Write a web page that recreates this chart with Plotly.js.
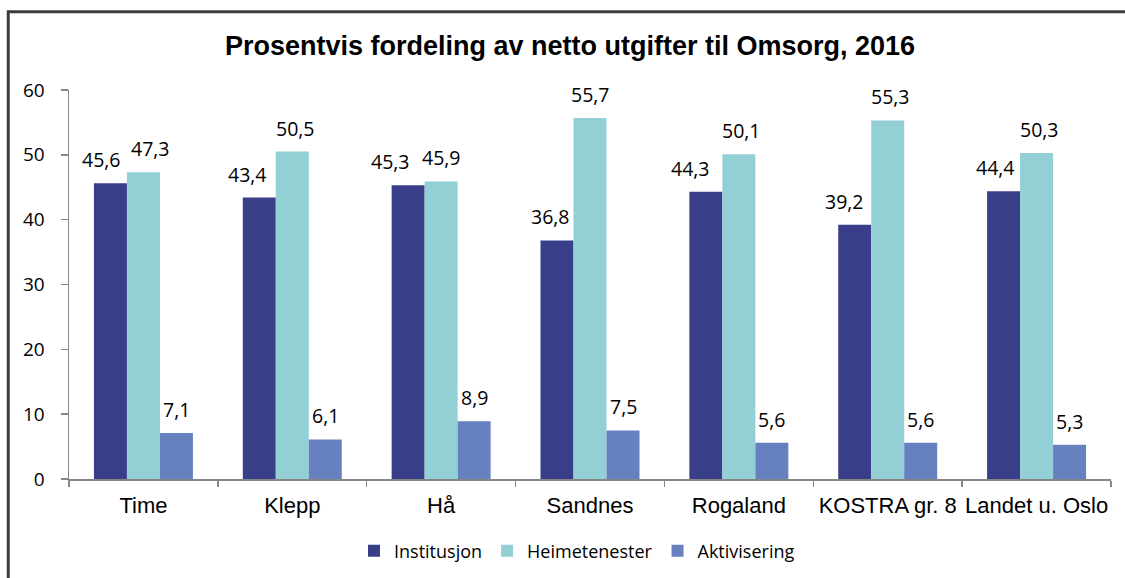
<!DOCTYPE html>
<html>
<head>
<meta charset="utf-8">
<script src="https://cdn.plot.ly/plotly-3.0.1.min.js"></script>
<style>html,body{margin:0;padding:0;background:#fff;}#chart{width:1125px;height:578px;}</style>
</head>
<body>
<div id="chart"></div>
<script>
const categories = ["Time", "Klepp", "Hå", "Sandnes", "Rogaland", "KOSTRA gr. 8", "Landet u. Oslo"];
const institusjon = [45.6, 43.4, 45.3, 36.8, 44.3, 39.2, 44.4];
const heimetenester = [47.3, 50.5, 45.9, 55.7, 50.1, 55.3, 50.3];
const aktivisering = [7.1, 6.1, 8.9, 7.5, 5.6, 5.6, 5.3];
const seriesNames = ["Institusjon", "Heimetenester", "Aktivisering"];
const yTicks = [0, 10, 20, 30, 40, 50, 60];

const colors = ["#383E88", "#92D0D6", "#6680C0"];
const series = [institusjon, heimetenester, aktivisering];
const labelFont = {family: "Open Sans, sans-serif", size: 19.5, color: "#000"};
// small horizontal nudges (px) of labels, as placed in the original
const labelNudge = [[-9, -12, -18, -7, -15, -10, -8], [7, 3, 0, 0, 3, 3, 3], [0, 0, 0, 0, 0, 0, 0]];

const traces = series.map((vals, i) => ({
  type: "bar",
  name: seriesNames[i],
  x: categories,
  y: vals,
  marker: {color: colors[i], line: {width: 0}},
  hoverinfo: "none"
}));

const annotations = [];
series.forEach((vals, i) => {
  vals.forEach((v, j) => {
    annotations.push({
      x: categories[j], y: v, xref: "x", yref: "y",
      xshift: (i - 1) * 33 + labelNudge[i][j], yshift: 8,
      yanchor: "bottom", xanchor: "center",
      text: v.toFixed(1).replace(".", ","),
      showarrow: false, font: labelFont
    });
  });
});

const layout = {
  width: 1125, height: 578,
  margin: {l: 69, r: 14, t: 90, b: 99},
  paper_bgcolor: "#fff", plot_bgcolor: "#fff",
  title: {
    text: "<b>Prosentvis fordeling av netto utgifter til Omsorg, 2016</b>",
    font: {family: "Liberation Sans, Arial, sans-serif", size: 27, color: "#000"},
    x: 0.5067, xanchor: "center", xref: "container",
    y: 1 - 46 / 578, yanchor: "middle", yref: "container"
  },
  barmode: "group", bargap: 0.335, bargroupgap: 0,
  showlegend: true,
  legend: {
    orientation: "h", xref: "container", x: 577 / 1125, xanchor: "center",
    yref: "container", y: 1 - 551 / 578, yanchor: "middle",
    font: {family: "Open Sans, sans-serif", size: 18, color: "#000"},
    traceorder: "normal"
  },
  xaxis: {
    type: "category", automargin: false, tickangle: 0,
    showline: true, linecolor: "#868686", linewidth: 1.5,
    ticks: "outside", tickson: "boundaries", ticklen: 6, tickcolor: "#868686", tickwidth: 1.5,
    showgrid: false, zeroline: false, ticklabelstandoff: 6,
    tickfont: {family: "Liberation Sans, Arial, sans-serif", size: 22, color: "#000"}
  },
  yaxis: {
    range: [0, 60], tickvals: yTicks, ticktext: yTicks.map(String), automargin: false,
    showline: true, linecolor: "#868686", linewidth: 1.5,
    ticks: "outside", ticklen: 7, tickcolor: "#868686", tickwidth: 1.5,
    showgrid: false, zeroline: false, ticklabelstandoff: 12,
    tickfont: {family: "Open Sans, sans-serif", size: 19, color: "#000"}
  },
  annotations: annotations,
  shapes: [{
    type: "path", xref: "paper", yref: "paper",
    path: "M -0.0583,-1 L -0.0583,1.2013 L 1.2,1.2013",
    line: {color: "#3c3c3c", width: 3}
  }]
};

Plotly.newPlot("chart", traces, layout, {displayModeBar: false, staticPlot: true});
</script>
</body>
</html>
